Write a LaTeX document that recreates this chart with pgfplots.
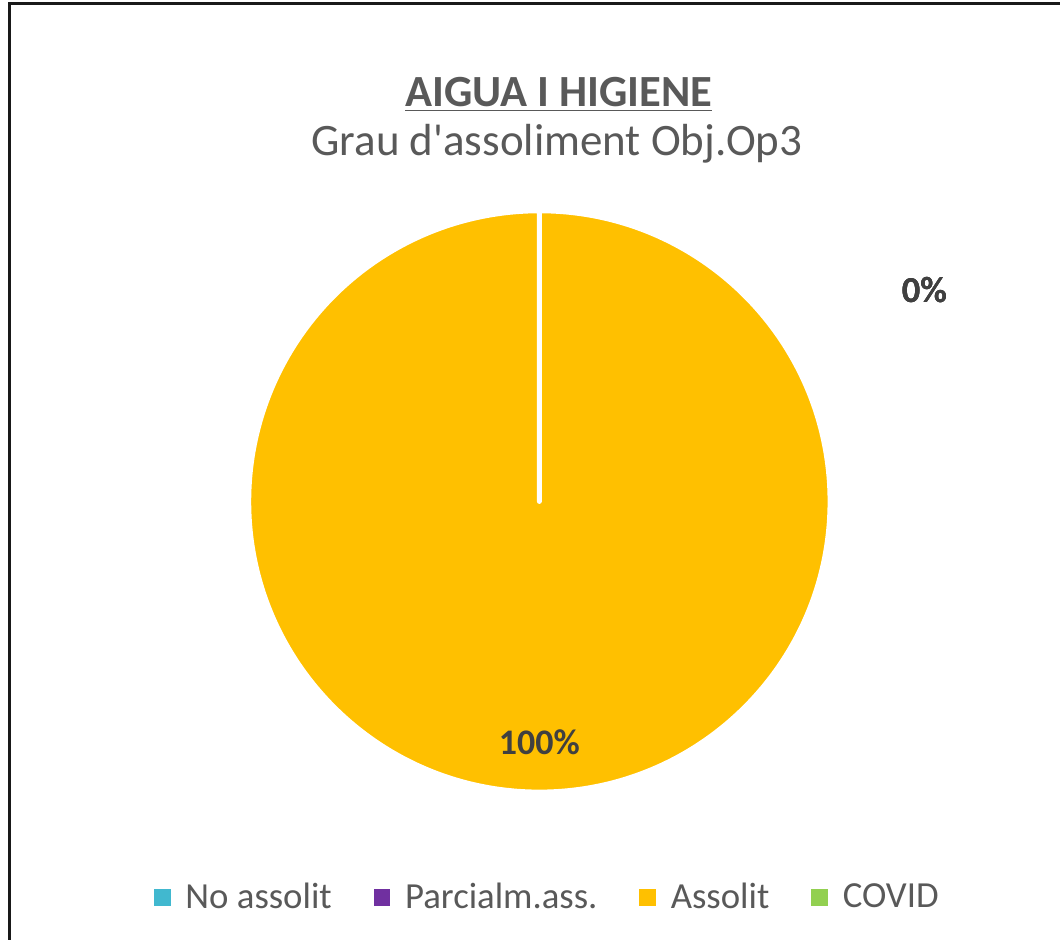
\documentclass[border=0pt]{standalone}
\usepackage{fontspec}
\setmainfont{Carlito}
\usepackage{pgfplots}
\usepackage{pgfplotstable}
\usetikzlibrary{calc}
\pgfplotsset{compat=1.18}
\definecolor{txtgray}{HTML}{595959}
\definecolor{lblgray}{HTML}{404040}
\definecolor{piec0}{HTML}{41B8CF}
\definecolor{piec1}{HTML}{7030A0}
\definecolor{piec2}{HTML}{FFC000}
\definecolor{piec3}{HTML}{92D050}

% grau d'assoliment (%)
\pgfplotstableread{
name value
NoAssolit 0
Parcialm 0
Assolit 100
COVID 0
}\pietable

\begin{document}
\begin{tikzpicture}
\begin{axis}[
  hide axis, scale only axis,
  width=530.5pt, height=470.5pt,
  xmin=0, xmax=1061, ymin=0, ymax=941,
  y dir=reverse, clip=false,
  legend columns=4,
  legend style={at={(axis cs:549,898.5)}, anchor=center, draw=none, fill=none,
    font=\fontsize{18.4}{22}\selectfont, text=txtgray,
    /tikz/every even column/.append style={column sep=19pt},
    /tikz/every odd column/.append style={column sep=5.5pt}},
  legend image code/.code={\fill[#1] (0pt,-3.8pt) rectangle (7.8pt,3.8pt);},
]
\path (axis cs:0,0) rectangle (axis cs:1061,941);
\draw[line width=1.2pt, black!90] (axis cs:9.5,941) -- (axis cs:9.5,3.5) -- (axis cs:1061,3.5);

% pie slices from the table, clockwise from 12 o'clock
\def\startang{90}
\pgfplotsforeachungrouped \i in {0,...,3}{%
  \pgfplotstablegetelem{\i}{value}\of\pietable
  \let\v\pgfplotsretval
  \pgfmathsetmacro\endang{\startang-\v*3.6}%
  \pgfmathsetmacro\midang{(\startang+\endang)/2}%
  \pgfmathtruncatemacro\isnz{\v>0}%
  \ifnum\isnz=1
    \edef\temp{\noexpand\filldraw[fill=piec\i, draw=white, line width=2.5pt, line join=round]
      (axis cs:540,502) -- ++(\startang:145.5pt) arc[start angle=\startang, end angle=\endang, radius=145.5pt] -- cycle;
      \noexpand\node[anchor=base, font=\noexpand\bfseries\noexpand\fontsize{18}{21}\noexpand\selectfont, text=lblgray]
      at ($(axis cs:540,502)+(\midang:121pt)+(0,-5.5pt)$) {\v\noexpand\%};}%
  \else
    \edef\temp{\noexpand\draw[white, line width=2.5pt] (axis cs:540,502) -- ++(\startang:145.5pt);
      \noexpand\node[anchor=base, font=\noexpand\bfseries\noexpand\fontsize{18.3}{21}\noexpand\selectfont, text=lblgray]
      at (axis cs:925.5,303) {\v\noexpand\%};}%
  \fi
  \temp
  \global\let\startang\endang
}

\node[anchor=base, font=\bfseries\fontsize{22.3}{26}\selectfont, text=txtgray] at (axis cs:559.5,107) {\underline{AIGUA I HIGIENE}};
\node[anchor=base, font=\fontsize{22.5}{26}\selectfont, text=txtgray] at (axis cs:557.5,156) {Grau d\textquotesingle assoliment Obj.Op3};

\addlegendimage{piec0}\addlegendentry{No assolit}
\addlegendimage{piec1}\addlegendentry{Parcialm.ass.}
\addlegendimage{piec2}\addlegendentry{Assolit}
\addlegendimage{piec3}\addlegendentry{COVID}
\end{axis}
\end{tikzpicture}
\end{document}
